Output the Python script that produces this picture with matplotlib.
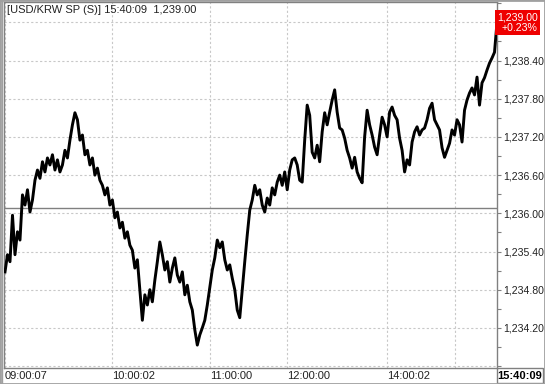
import matplotlib
matplotlib.use('Agg')
import matplotlib.pyplot as plt
from matplotlib.patches import Rectangle
from matplotlib.lines import Line2D
from matplotlib.ticker import MultipleLocator, FuncFormatter


# USD/KRW spot ticks (one value per sample)
prices = [
    1235.08, 1235.35, 1235.24, 1235.97, 1235.35, 1235.71, 1235.58, 1236.29, 1236.13, 1236.37,
    1236.02, 1236.21, 1236.52, 1236.68, 1236.55, 1236.81, 1236.65, 1236.87, 1236.76, 1236.92,
    1236.68, 1236.84, 1236.65, 1236.76, 1236.99, 1236.87, 1237.15, 1237.39, 1237.58, 1237.47,
    1237.15, 1237.23, 1236.92, 1236.99, 1236.76, 1236.87, 1236.60, 1236.71, 1236.52, 1236.44,
    1236.29, 1236.40, 1236.13, 1236.21, 1235.93, 1236.02, 1235.77, 1235.86, 1235.61, 1235.71,
    1235.50, 1235.42, 1235.14, 1235.27, 1234.80, 1234.32, 1234.72, 1234.56, 1234.80, 1234.61,
    1234.95, 1235.24, 1235.55, 1235.35, 1235.11, 1235.24, 1234.92, 1235.14, 1235.30, 1235.03,
    1234.92, 1235.08, 1234.72, 1234.87, 1234.61, 1234.48, 1234.17, 1233.93, 1234.09, 1234.20,
    1234.32, 1234.56, 1234.83, 1235.11, 1235.30, 1235.58, 1235.46, 1235.55, 1235.27, 1235.11,
    1235.19, 1234.98, 1234.80, 1234.48, 1234.36, 1234.80, 1235.24, 1235.66, 1236.05, 1236.21,
    1236.44, 1236.29, 1236.37, 1236.13, 1236.02, 1236.24, 1236.13, 1236.40, 1236.29, 1236.49,
    1236.60, 1236.44, 1236.65, 1236.37, 1236.68, 1236.84, 1236.87, 1236.76, 1236.52, 1236.49,
    1237.15, 1237.70, 1237.54, 1236.96, 1236.87, 1237.07, 1236.81, 1237.28, 1237.58, 1237.39,
    1237.59, 1237.78, 1237.94, 1237.59, 1237.34, 1237.31, 1237.18, 1236.99, 1236.87, 1236.71,
    1236.88, 1236.65, 1236.55, 1236.48, 1237.20, 1237.62, 1237.39, 1237.23, 1237.04, 1236.92,
    1237.23, 1237.51, 1237.39, 1237.20, 1237.59, 1237.67, 1237.54, 1237.47, 1237.18, 1236.99,
    1236.65, 1236.84, 1236.76, 1237.12, 1237.28, 1237.36, 1237.23, 1237.31, 1237.34, 1237.47,
    1237.65, 1237.73, 1237.47, 1237.39, 1237.31, 1237.03, 1236.88, 1236.99, 1237.10, 1237.31,
    1237.23, 1237.47, 1237.39, 1237.12, 1237.62, 1237.78, 1237.89, 1237.97, 1237.86, 1238.14,
    1237.70, 1238.05, 1238.13, 1238.25, 1238.36, 1238.44, 1238.53, 1239.00,
]

# sample index where each time label sits
time_idx = [0, 43, 82, 113, 153, 180]
time_labels = ['09:00:07', '10:00:02', '11:00:00', '12:00:00', '14:00:02', '']

prev_close = 1236.09
last_time = '15:40:09'
last_price = 1239.00
change_pct = 0.23

W, H = 545, 384
plt.rcParams['font.family'] = ['Liberation Sans', 'DejaVu Sans']

fig = plt.figure(figsize=(W / 100, H / 100), dpi=100)
ax = fig.add_axes([4 / W, 1 - 368 / H, (497 - 4) / W, (368 - 2) / H])

ax.plot(range(len(prices)), prices, color='black', lw=2.1, zorder=3)
ax.axhline(prev_close, color='#808080', lw=1, zorder=2)

ax.set_xlim(-0.4, len(prices) - 1)
ax.set_ylim(1233.57, 1239.32)


def price_fmt(v, _):
    # bottom tick is off the chart, top one sits under the badge
    if v < 1234.0 or v > 1238.7:
        return ''
    return f'{v:,.2f}'


# price axis on the right
ax.yaxis.tick_right()
ax.yaxis.set_major_locator(MultipleLocator(0.6))
ax.yaxis.set_minor_locator(MultipleLocator(0.3))
ax.yaxis.set_major_formatter(FuncFormatter(price_fmt))
ax.tick_params(axis='y', which='both', direction='out', length=3, width=0.8,
               color='#808080', pad=1.5, labelsize=7.6, labelcolor='#222222')

# time axis
ax.set_xticks(time_idx)
ax.set_xticklabels(time_labels, ha='left')
ax.tick_params(axis='x', length=0, pad=2.5, labelsize=8, labelcolor='#222222')

ax.grid(True, color='#c8c8c8', linestyle=(0, (2, 2)), linewidth=0.8)
ax.set_axisbelow(True)
for s in ax.spines.values():
    s.set_color('#808080')
    s.set_linewidth(1)

ax.text(0.006, 0.992, f'[USD/KRW SP (S)] {last_time}  {last_price:,.2f}',
        transform=ax.transAxes, ha='left', va='top', fontsize=8, color='#222222')

# last price badge
ax.text(1.0, last_price, f'{last_price:,.2f}\n+{change_pct:.2f}%',
        transform=ax.get_yaxis_transform(), ha='left', va='center',
        multialignment='right', color='white', fontsize=7.6, linespacing=1.05,
        bbox=dict(boxstyle='square,pad=0.22', fc='#ee0000', ec='none'),
        clip_on=False, zorder=5)

# last time box at the bottom right
fig.add_artist(Rectangle((497 / W, 1 / H), 46 / W, 15 / H, transform=fig.transFigure,
                         fill=False, ec='#808080', lw=1))
fig.text(520 / W, 1 - 376 / H, last_time, ha='center', va='center',
         fontsize=8, fontweight='bold', color='black')

# window frame
fig.add_artist(Rectangle((0, 0), 1, 1, transform=fig.transFigure,
                         fill=False, ec='#a0a0a0', lw=2))
fig.add_artist(Line2D([1.5 / W, 1.5 / W], [0, 1], transform=fig.transFigure,
                      color='#a0a0a0', lw=1))

fig.savefig('out.png', dpi=100)
